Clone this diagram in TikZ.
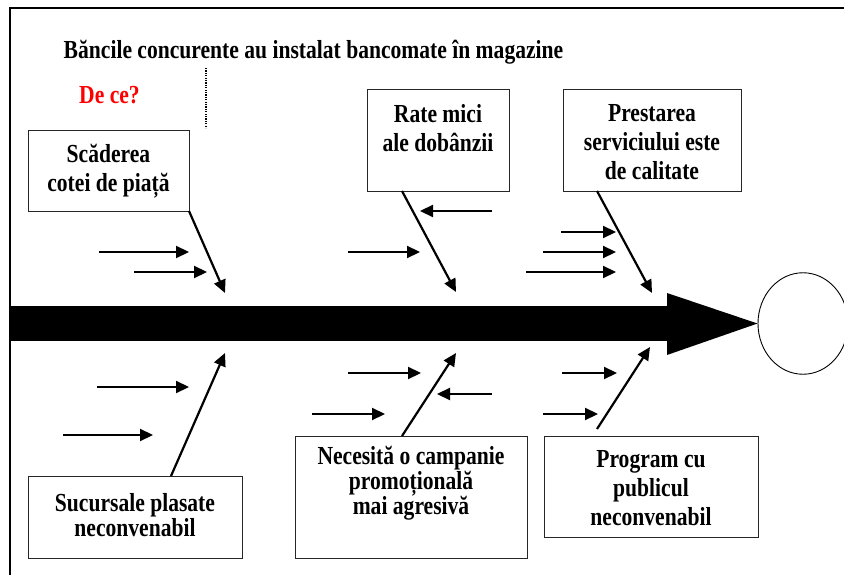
\documentclass[tikz,border=0pt]{standalone}
\usepackage{fontspec}
\setmainfont{Liberation Serif}[FakeStretch=0.83]
\usetikzlibrary{arrows.meta,shapes.geometric}
\begin{document}
\begin{tikzpicture}[x=1pt,y=-1pt,
  box/.style={draw=black!85, line width=0.9pt, inner sep=0pt, outer sep=0pt, rectangle},
  lbl/.style={font=\bfseries\fontsize{26}{29}\selectfont, align=center, inner sep=0pt},
  lbltight/.style={font=\bfseries\fontsize{26}{25}\selectfont, align=center, inner sep=0pt},
  arr/.style={line width=2.2pt, -{Triangle[length=13pt,width=12pt]}},
  frame/.style={line width=2pt}]
\useasboundingbox (0,0) rectangle (844,575);
% frame
\coordinate (fl) at (10,575);
\coordinate (fc) at (10,8);
\coordinate (fr) at (846,8);
\draw[frame] (fl) -- (fc) -- (fr);
% title
\node[lbl] (title) at (313.5,52) {Băncile concurente au instalat bancomate în magazine};
\node[lbl, text=red] (dece) at (109.5,95) {De ce?};
\coordinate (d1) at (206,68);
\coordinate (d2) at (206,128);
\draw[line width=1.4pt, dash pattern=on 1.2pt off 1.2pt] (d1) -- (d2);
% goal
\node[draw, line width=0.9pt, ellipse, minimum width=90pt, minimum height=101.5pt, inner sep=0pt] (goal) at (803,323.5) {};
% spine
\coordinate (sp0) at (10,306);
\coordinate (sp1) at (667,341);
\fill (sp0) rectangle (sp1);
\coordinate (ha) at (667,293);
\coordinate (hb) at (667,355);
\fill (ha) -- (goal.west) -- (hb) -- cycle;
% boxes
\node[box, minimum width=161pt, minimum height=81pt] (b1) at (108.5,170.5) {};
\node[box, minimum width=142pt, minimum height=102pt] (b2) at (438,140) {};
\node[box, minimum width=178pt, minimum height=102pt] (b3) at (652,140) {};
\node[box, minimum width=214pt, minimum height=82pt] (b4) at (135,517) {};
\node[box, minimum width=232pt, minimum height=122pt] (b5) at (411,497) {};
\node[box, minimum width=214pt, minimum height=101pt] (b6) at (651,486.5) {};
% texts
\node[lbl] (t1) at (108.5,171.5) {Scăderea\\cotei de piață};
\node[lbl] (t2) at (438,128) {Rate mici\\ale dobânzii};
\node[lbl] (t3) at (652,142) {Prestarea\\serviciului este\\de calitate};
\node[lbltight] (t4) at (135,515.5) {Sucursale plasate\\neconvenabil};
\node[lbltight] (t5) at (411,483) {Necesită o campanie\\promoțională\\mai agresivă};
\node[lbl] (t6) at (651,488) {Program cu\\publicul\\neconvenabil};
% diagonal bones
\coordinate (h1) at (225,293);
\coordinate (h2) at (456,292);
\coordinate (h3) at (652,293);
\coordinate (h4) at (225,353);
\coordinate (h5) at (456,353);
\coordinate (h6) at (650,347);
\draw[arr] (b1.south east) -- (h1);
\draw[arr] ([xshift=35pt]b2.south west) -- (h2);
\draw[arr] ([xshift=34pt]b3.south west) -- (h3);
\draw[arr] ([xshift=143pt]b4.north west) -- (h4);
\draw[arr] ([xshift=107pt]b5.north west) -- (h5);
\draw[arr] ([xshift=53pt,yshift=7pt]b6.north west) -- (h6);
% side arrows top
\coordinate (a1s) at (99,252);  \coordinate (a1e) at (189,252);
\coordinate (a2s) at (134,272); \coordinate (a2e) at (207,272);
\coordinate (a3s) at (492,211); \coordinate (a3e) at (420,211);
\coordinate (a4s) at (348,252); \coordinate (a4e) at (420,252);
\coordinate (a5s) at (561,232); \coordinate (a5e) at (616,232);
\coordinate (a6s) at (543,252); \coordinate (a6e) at (616,252);
\coordinate (a7s) at (526,272); \coordinate (a7e) at (616,272);
% side arrows bottom
\coordinate (c1s) at (97,387);  \coordinate (c1e) at (189,387);
\coordinate (c2s) at (63,435);  \coordinate (c2e) at (153,435);
\coordinate (c3s) at (348,373); \coordinate (c3e) at (421,373);
\coordinate (c4s) at (492,394); \coordinate (c4e) at (437,394);
\coordinate (c5s) at (312,414); \coordinate (c5e) at (385,414);
\coordinate (c6s) at (562,373); \coordinate (c6e) at (617,373);
\coordinate (c7s) at (543,414); \coordinate (c7e) at (598,414);
\foreach \n in {a1,a2,a3,a4,a5,a6,a7,c1,c2,c3,c4,c5,c6,c7}
  \draw[arr] (\n s) -- (\n e);
\end{tikzpicture}
\end{document}
